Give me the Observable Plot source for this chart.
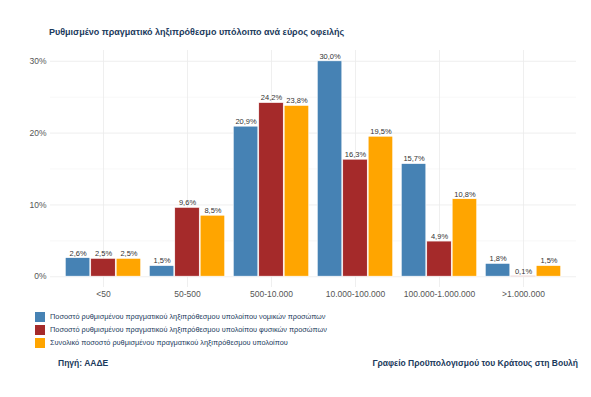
<!DOCTYPE html>
<html>
<head>
<meta charset="utf-8">
<script src="https://cdn.jsdelivr.net/npm/d3@7"></script>
<script src="https://cdn.jsdelivr.net/npm/@observablehq/plot@0.6"></script>
<style>
  html, body { margin: 0; padding: 0; background: #fff; }
  body { width: 591px; height: 397px; position: relative; overflow: hidden; font-family: "Liberation Sans", Arial, sans-serif; }
  #title { position: absolute; left: 49px; top: 26px; font-size: 9px; font-weight: bold; color: #1b3a5c; white-space: nowrap; line-height: 12px; }
  #chart { position: absolute; left: 0; top: 40px; }
  #legend { position: absolute; left: 35px; top: 310px; }
  .row { display: flex; align-items: center; height: 13px; font-size: 7.35px; color: #1b3a5c; white-space: nowrap; }
  .sw { width: 10px; height: 10px; margin-right: 5px; }
  #source { position: absolute; left: 58px; top: 358px; font-size: 8.5px; font-weight: bold; color: #1b3a5c; white-space: nowrap; }
  #credit { position: absolute; right: 13px; top: 358px; font-size: 8.5px; font-weight: bold; color: #1b3a5c; white-space: nowrap; }
</style>
</head>
<body>
<div id="title">Ρυθμισμένο πραγματικό ληξιπρόθεσμο υπόλοιπο ανά εύρος οφειλής</div>
<div id="chart"></div>
<div id="legend"></div>
<div id="source">Πηγή: ΑΑΔΕ</div>
<div id="credit">Γραφείο Προϋπολογισμού του Κράτους στη Βουλή</div>
<script>
const categories = ["<50", "50-500", "500-10.000", "10.000-100.000", "100.000-1.000.000", ">1.000.000"];
const seriesNames = [
  "Ποσοστό ρυθμισμένου πραγματικού ληξιπρόθεσμου υπολοίπου νομικών προσώπων",
  "Ποσοστό ρυθμισμένου πραγματικού ληξιπρόθεσμου υπολοίπου φυσικών προσώπων",
  "Συνολικό ποσοστό ρυθμισμένου πραγματικού ληξιπρόθεσμου υπολοίπου"
];
const legalPersons = [2.6, 1.5, 20.9, 30.0, 15.7, 1.8];
const naturalPersons = [2.5, 9.6, 24.2, 16.3, 4.9, 0.1];
const totalShare = [2.5, 8.5, 23.8, 19.5, 10.8, 1.5];
const colors = ["#4682B4", "#A52A2A", "#FFA500"];
const yTicks = [0, 10, 20, 30];
const yMinor = [5, 15, 25];

const seriesValues = [legalPersons, naturalPersons, totalShare];

const width = 591, height = 270, mL = 50, mR = 15, mT = 10, mB = 23;
const step = (width - mL - mR) / 6.2;
const groupW = step * 0.9;
const barW = groupW / 3;
const groupOff = (step - groupW) / 2;

const fmt = v => v.toFixed(1).replace(".", ",") + "%";

const marks = [
  Plot.gridY(yMinor, {stroke: "#f4f4f4", strokeOpacity: 1, strokeWidth: 0.6}),
  Plot.gridY(yTicks, {stroke: "#ebebeb", strokeOpacity: 1, strokeWidth: 0.8}),
  Plot.gridX({stroke: "#ebebeb", strokeOpacity: 1, strokeWidth: 0.8}),
];

seriesValues.forEach((vals, i) => {
  const data = categories.map((c, j) => ({cat: c, value: vals[j]}));
  const left = groupOff + i * barW;
  marks.push(Plot.barY(data, {
    x: "cat", y1: 0, y2: "value",
    fill: colors[i], stroke: "white", strokeWidth: 0.7,
    insetLeft: left, insetRight: step - left - barW
  }));
  marks.push(Plot.text(data, {
    x: "cat", y: "value", text: d => fmt(d.value),
    dx: (i - 1) * barW, dy: -2.5, lineAnchor: "bottom",
    fontSize: 7.5, fill: "#333"
  }));
});

marks.push(Plot.axisY({ticks: yTicks, tickFormat: d => d + "%", tickSize: 0, tickPadding: 4, fontSize: 8.5, color: "#555"}));
marks.push(Plot.axisX({tickSize: 0, tickPadding: 3, fontSize: 8.5, color: "#555"}));

const chart = Plot.plot({
  width, height,
  marginLeft: mL, marginRight: mR, marginTop: mT, marginBottom: mB,
  style: {fontFamily: "'Liberation Sans', Arial, sans-serif", background: "white"},
  x: {type: "band", domain: categories, paddingInner: 0, paddingOuter: 0.1, label: null},
  y: {domain: [-1.5, 31.5], label: null},
  marks
});
document.getElementById("chart").appendChild(chart);

const legend = document.getElementById("legend");
seriesNames.forEach((name, i) => {
  const row = document.createElement("div");
  row.className = "row";
  const sw = document.createElement("div");
  sw.className = "sw";
  sw.style.background = colors[i];
  const t = document.createElement("span");
  t.textContent = name;
  row.appendChild(sw);
  row.appendChild(t);
  legend.appendChild(row);
});
</script>
</body>
</html>
